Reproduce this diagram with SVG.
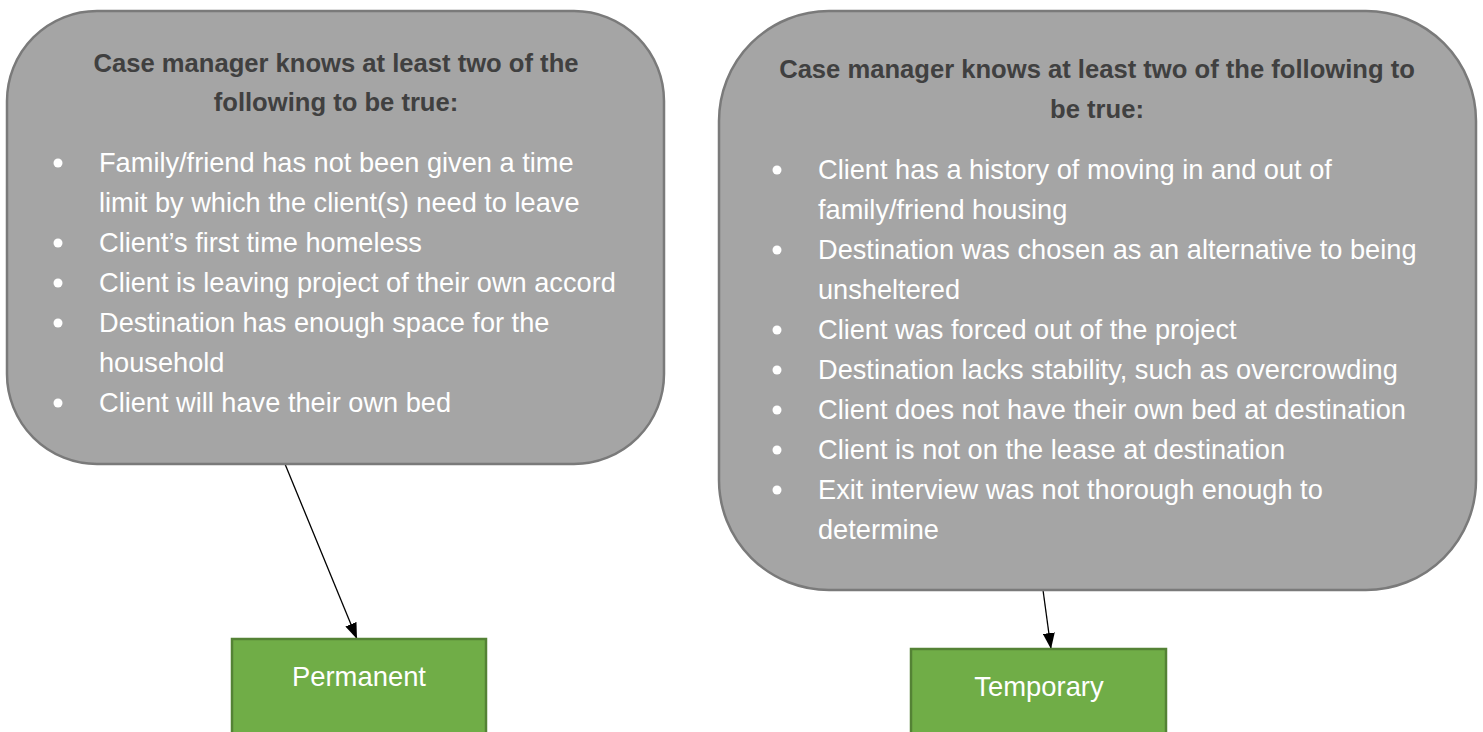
<svg xmlns="http://www.w3.org/2000/svg" width="1483" height="732" viewBox="0 0 1483 732">
<defs>
<style>
.card{fill:#a5a5a5;stroke:#7a7a7a;stroke-width:2.5}
.res{fill:#70ad47;stroke:#548235;stroke-width:2.5}
.title{font-family:"Liberation Sans",Arial,sans-serif;font-weight:bold;font-size:25.6px;fill:#404040;text-anchor:middle}
.item{font-family:"Liberation Sans",Arial,sans-serif;font-size:27.2px;fill:#ffffff}
.lab{font-family:"Liberation Sans",Arial,sans-serif;font-size:27.4px;fill:#ffffff;text-anchor:middle}
.dot{fill:#ffffff}
.conn{stroke:#000;stroke-width:1.3;fill:none;marker-end:url(#ah)}
</style>
<marker id="ah" viewBox="0 0 16 12" refX="16" refY="6" markerWidth="16" markerHeight="12" markerUnits="userSpaceOnUse" orient="auto">
<path d="M0,0 L16,6 L0,12 z" fill="#000"/>
</marker>
</defs>
<rect width="1483" height="732" fill="#ffffff"/>
<g id="connectors">
<line class="conn" x1="285" y1="464" x2="357" y2="639"/>
<line class="conn" x1="1043" y1="590" x2="1051" y2="649"/>
</g>
<g id="left-criteria">
<rect class="card" x="7" y="11" width="657" height="453" rx="90" ry="90"/>
<text class="title" x="336" y="72">Case manager knows at least two of the</text>
<text class="title" x="336" y="111">following to be true:</text>
<circle class="dot" cx="58" cy="163" r="4.5"/>
<text class="item" x="99" y="172">Family/friend has not been given a time</text>
<text class="item" x="99" y="212">limit by which the client(s) need to leave</text>
<circle class="dot" cx="58" cy="243" r="4.5"/>
<text class="item" x="99" y="252">Client’s first time homeless</text>
<circle class="dot" cx="58" cy="283" r="4.5"/>
<text class="item" x="99" y="292">Client is leaving project of their own accord</text>
<circle class="dot" cx="58" cy="323" r="4.5"/>
<text class="item" x="99" y="332">Destination has enough space for the</text>
<text class="item" x="99" y="372">household</text>
<circle class="dot" cx="58" cy="403" r="4.5"/>
<text class="item" x="99" y="412">Client will have their own bed</text>
</g>
<g id="right-criteria">
<rect class="card" x="719" y="11" width="757" height="579" rx="110" ry="110"/>
<text class="title" x="1097" y="78">Case manager knows at least two of the following to</text>
<text class="title" x="1097" y="118">be true:</text>
<circle class="dot" cx="777" cy="170" r="4.5"/>
<text class="item" x="818" y="179">Client has a history of moving in and out of</text>
<text class="item" x="818" y="219">family/friend housing</text>
<circle class="dot" cx="777" cy="250" r="4.5"/>
<text class="item" x="818" y="259">Destination was chosen as an alternative to being</text>
<text class="item" x="818" y="299">unsheltered</text>
<circle class="dot" cx="777" cy="330" r="4.5"/>
<text class="item" x="818" y="339">Client was forced out of the project</text>
<circle class="dot" cx="777" cy="370" r="4.5"/>
<text class="item" x="818" y="379">Destination lacks stability, such as overcrowding</text>
<circle class="dot" cx="777" cy="410" r="4.5"/>
<text class="item" x="818" y="419">Client does not have their own bed at destination</text>
<circle class="dot" cx="777" cy="450" r="4.5"/>
<text class="item" x="818" y="459">Client is not on the lease at destination</text>
<circle class="dot" cx="777" cy="490" r="4.5"/>
<text class="item" x="818" y="499">Exit interview was not thorough enough to</text>
<text class="item" x="818" y="539">determine</text>
</g>
<g id="permanent">
<rect class="res" x="232" y="639" width="254" height="100"/>
<text class="lab" x="359" y="686">Permanent</text>
</g>
<g id="temporary">
<rect class="res" x="911" y="649" width="255" height="90"/>
<text class="lab" x="1039" y="696">Temporary</text>
</g>
</svg>
